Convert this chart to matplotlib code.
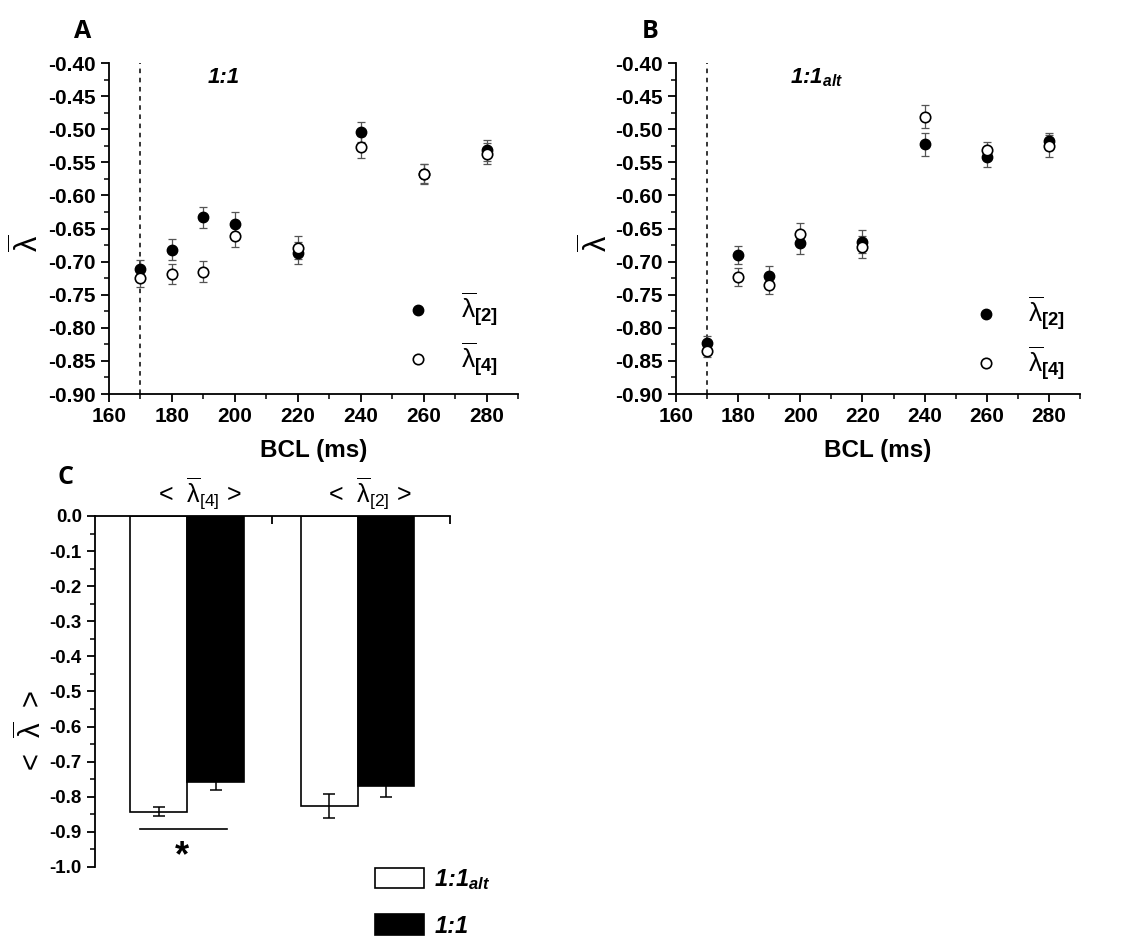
import matplotlib
matplotlib.use("Agg")
import matplotlib.pyplot as plt
import numpy as np
from matplotlib.lines import Line2D
from matplotlib.ticker import MultipleLocator, FormatStrFormatter

plt.rcParams['font.family'] = ['Liberation Sans', 'DejaVu Sans']
plt.rcParams['mathtext.fontset'] = 'custom'
plt.rcParams['mathtext.rm'] = 'Liberation Sans'
plt.rcParams['mathtext.it'] = 'Liberation Sans:italic:bold'
plt.rcParams['mathtext.bf'] = 'Liberation Sans:bold'

# BCL values (ms)
bcl = [170, 180, 190, 200, 220, 240, 260, 280]

# panel A (1:1)
a_lam2 = [-0.711, -0.682, -0.633, -0.643, -0.687, -0.504, -0.568, -0.532]
a_lam2_err = [0.013, 0.016, 0.016, 0.018, 0.017, 0.015, 0.015, 0.016]
a_lam4 = [-0.725, -0.719, -0.715, -0.661, -0.679, -0.527, -0.567, -0.537]
a_lam4_err = [0.013, 0.015, 0.016, 0.017, 0.017, 0.017, 0.015, 0.016]

# panel B (1:1 alt)
b_lam2 = [-0.823, -0.690, -0.722, -0.672, -0.670, -0.523, -0.542, -0.518]
b_lam2_err = [0.010, 0.013, 0.016, 0.017, 0.017, 0.017, 0.015, 0.013]
b_lam4 = [-0.835, -0.723, -0.735, -0.659, -0.678, -0.481, -0.532, -0.525]
b_lam4_err = [0.009, 0.014, 0.014, 0.017, 0.017, 0.017, 0.013, 0.017]

# panel C: mean values over BCL
groups = [r'<  $\overline{\mathrm{\lambda}}_{[4]}$ >', r'<  $\overline{\mathrm{\lambda}}_{[2]}$ >']
mean_alt = [-0.842, -0.826]
mean_alt_err = [0.012, 0.035]
mean_11 = [-0.759, -0.768]
mean_11_err = [0.022, 0.034]

lam_label = r'$\overline{\mathrm{\lambda}}$'
leg2 = r'$\overline{\mathrm{\lambda}}_{\mathbf{[2]}}$'
leg4 = r'$\overline{\mathrm{\lambda}}_{\mathbf{[4]}}$'

fig = plt.figure(figsize=(11.21, 9.39), dpi=100)

ax_a = fig.add_axes([0.0972, 0.5804, 0.365, 0.3525])
ax_b = fig.add_axes([0.603, 0.5804, 0.3604, 0.3525])
ax_c = fig.add_axes([0.0847, 0.0767, 0.3167, 0.3738])


def style_axes(ax):
    for s in ['top', 'right']:
        ax.spines[s].set_visible(False)
    for s in ['left', 'bottom']:
        ax.spines[s].set_linewidth(1.3)
    ax.tick_params(which='major', direction='out', length=6, width=1.3, labelsize=15)
    ax.tick_params(which='minor', direction='out', length=3.5, width=1.1)
    for lab in ax.get_xticklabels() + ax.get_yticklabels():
        lab.set_fontweight('bold')


def scatter_panel(ax, lam2, lam2_err, lam4, lam4_err, title, title_x, leg_anchor, ylab_x):
    ax.errorbar(bcl, lam2, yerr=lam2_err, fmt='none', ecolor='#555555',
                elinewidth=0.9, capsize=3, capthick=0.9, zorder=2)
    ax.errorbar(bcl, lam4, yerr=lam4_err, fmt='none', ecolor='#555555',
                elinewidth=0.9, capsize=3, capthick=0.9, zorder=2)
    ax.plot(bcl, lam2, 'o', ms=7.5, mfc='black', mec='black', zorder=3)
    ax.plot(bcl, lam4, 'o', ms=7.5, mfc='white', mec='black', mew=1.2, zorder=4)
    ax.axvline(170, color='black', ls=(0, (3, 3)), lw=1.1, zorder=1)
    ax.set_xlim(160, 290)
    ax.set_ylim(-0.90, -0.40)
    ax.xaxis.set_major_locator(MultipleLocator(20))
    ax.xaxis.set_minor_locator(MultipleLocator(10))
    ax.yaxis.set_major_locator(MultipleLocator(0.05))
    ax.yaxis.set_minor_locator(MultipleLocator(0.025))
    ax.yaxis.set_major_formatter(FormatStrFormatter('%.2f'))
    style_axes(ax)
    ax.set_xlabel('BCL (ms)', fontsize=17.5, fontweight='bold')
    ax.xaxis.set_label_coords(0.5, -0.135)
    ax.set_ylabel(lam_label, fontsize=22)
    ax.yaxis.set_label_coords(ylab_x, 0.455)
    ax.text(title_x, 0.955, title, transform=ax.transAxes, fontsize=16,
            fontweight='bold', style='italic', ha='left', va='center')
    h2 = Line2D([], [], ls='none', marker='o', ms=7.5, mfc='black', mec='black')
    h4 = Line2D([], [], ls='none', marker='o', ms=7.5, mfc='white', mec='black', mew=1.2)
    ax.legend([h2, h4], [leg2, leg4], loc='lower left', bbox_to_anchor=leg_anchor,
              frameon=False, fontsize=19, handletextpad=0.6, labelspacing=0.43,
              borderaxespad=0)


scatter_panel(ax_a, a_lam2, a_lam2_err, a_lam4, a_lam4_err, '1:1', 0.242,
              (0.666, 0.014), -0.155)
scatter_panel(ax_b, b_lam2, b_lam2_err, b_lam4, b_lam4_err, r'1:1$_{alt}$', 0.282,
              (0.675, 0.002), -0.151)

fig.text(0.074, 0.966, 'A', fontsize=18, fontweight='bold', ha='center', va='center',
         family=['Open Sans', 'DejaVu Sans'])
fig.text(0.580, 0.966, 'B', fontsize=18, fontweight='bold', ha='center', va='center',
         family=['Open Sans', 'DejaVu Sans'])
fig.text(0.058, 0.491, 'C', fontsize=18, fontweight='bold', ha='center', va='center',
         family=['Open Sans', 'DejaVu Sans'])

# panel C bars
centers = np.array([1.02, 1.98])
w = 0.32
ax_c.bar(centers - w / 2, mean_alt, w, color='white', edgecolor='black', lw=1.2,
         label=r'1:1$_{alt}$', zorder=2)
ax_c.bar(centers + w / 2, mean_11, w, color='black', edgecolor='black', lw=1.2,
         label='1:1', zorder=2)
ax_c.errorbar(centers - w / 2, mean_alt, yerr=mean_alt_err, fmt='none', ecolor='black',
              elinewidth=1.1, capsize=4, capthick=1.1, zorder=3)
ax_c.errorbar(centers + w / 2, mean_11, yerr=mean_11_err, fmt='none', ecolor='black',
              elinewidth=1.1, capsize=4, capthick=1.1, zorder=1)
ax_c.set_xlim(0.5, 2.5)
ax_c.set_ylim(-1.0, 0.0)
ax_c.yaxis.set_major_locator(MultipleLocator(0.1))
ax_c.yaxis.set_minor_locator(MultipleLocator(0.05))
ax_c.yaxis.set_major_formatter(FormatStrFormatter('%.1f'))
ax_c.spines['right'].set_visible(False)
ax_c.spines['bottom'].set_visible(False)
ax_c.spines['top'].set_linewidth(1.3)
ax_c.spines['left'].set_linewidth(1.3)
ax_c.xaxis.set_ticks_position('top')
ax_c.set_xticks([1.5, 2.5])
ax_c.set_xticklabels([])
ax_c.tick_params(axis='x', direction='in', length=6, width=1.3)
ax_c.tick_params(axis='y', which='major', direction='out', length=6, width=1.3, labelsize=13.5)
ax_c.tick_params(axis='y', which='minor', direction='out', length=3.5, width=1.1)
for lab in ax_c.get_yticklabels():
    lab.set_fontweight('bold')
ax_c.set_ylabel(r'<  $\overline{\mathrm{\lambda}}$  >', fontsize=21)
ax_c.yaxis.set_label_coords(-0.132, 0.39)

for c, g in zip(centers, groups):
    ax_c.text(c + 0.07, 1.065, g, transform=ax_c.get_xaxis_transform(), fontsize=18,
              ha='center', va='center')

# significance
ax_c.plot([0.754, 1.244], [-0.892, -0.892], color='black', lw=1.2)
ax_c.text(0.99, -0.972, '*', fontsize=26, fontweight='bold', ha='center', va='center')

ax_c.legend(loc='upper left', bbox_to_anchor=(0.79, 0.0), frameon=False,
            prop={'size': 17, 'weight': 'bold', 'style': 'italic'},
            handlelength=2.05, handleheight=0.95, labelspacing=0.95,
            handletextpad=0.45, borderaxespad=0, borderpad=0)

fig.savefig('out.png', dpi=100)
